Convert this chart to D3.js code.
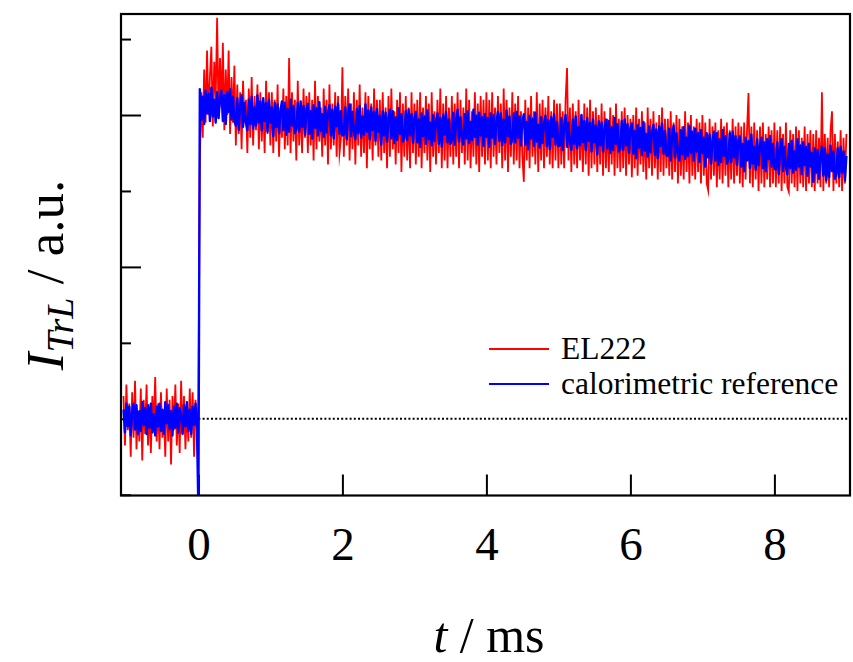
<!DOCTYPE html>
<html>
<head>
<meta charset="utf-8">
<script src="https://cdn.jsdelivr.net/npm/d3@7"></script>
<style>
  html, body { margin: 0; padding: 0; background: #fff; }
  svg { display: block; font-family: "Liberation Serif", "Times New Roman", serif; }
</style>
</head>
<body>
<svg id="chart" width="853" height="662"></svg>
<script>
// ---- data ----
const tStart = -1.04;   // ms, first sample
const tStep = 0.02;     // ms, sample spacing
const xTicks = [0, 2, 4, 6, 8];
const yMajorTicks = [0, 2, 4];
const yMinorTicks = [-1, 1, 3, 5];
const baselineLevel = 0;
const seriesNames = ["EL222", "calorimetric reference"];

// EL222 signal (a.u.)
const redSignal = [
  // t < 0
  0.3,-0.35,0.45,-0.15,0.2,-0.5,0.35,-0.25,0.5,-0.4,0.1,-0.3,0.4,-0.55,0.25,-0.2,0.45,-0.35,0.15,-0.45,0.3,-0.1,0.55,-0.3,0.2,-0.4,
  0.35,-0.25,0.1,-0.5,0.4,-0.3,0.25,-0.6,0.3,-0.15,0.45,-0.35,0.2,-0.45,0.5,-0.2,0.3,-0.4,0.15,-0.3,0.4,-0.25,0.35,-0.5,0.25,-0.15,
  // t = 0
  0.2,
  // 0.02-0.5
  3.4,4.3,3.7,4.6,3.9,4.85,4.0,4.5,4.9,3.85,4.7,4.2,5.28,3.95,4.75,4.1,4.95,3.8,4.6,4.0,4.85,3.75,4.5,3.9,4.65,
  // 0.52-1.0
  3.6,4.4,3.75,4.3,3.55,4.45,3.9,4.2,3.5,4.35,3.7,4.5,3.6,4.25,3.8,4.4,3.55,4.3,3.65,4.2,3.5,4.45,3.75,4.3,3.6,
  // 1.02-1.5
  4.3,3.5,4.2,3.65,4.4,3.45,4.1,3.7,4.35,3.55,4.25,3.6,4.75,3.5,4.3,3.65,4.2,3.4,4.45,3.6,4.15,3.5,4.35,3.7,4.25,
  // 1.52-2.0
  3.5,4.3,3.6,4.2,3.4,4.45,3.55,4.25,3.65,4.1,3.45,4.35,3.6,4.2,3.35,4.4,3.55,4.15,3.6,4.3,3.45,4.25,3.5,3.7,4.63,
  // 2.02-2.5
  3.45,4.25,3.6,4.35,3.4,4.15,3.55,4.3,3.35,4.2,3.6,4.4,3.45,4.1,3.5,4.3,3.3,4.25,3.55,4.15,3.4,4.35,3.6,4.2,3.45,
  // 2.52-3.0
  4.2,3.4,4.3,3.5,4.1,3.3,4.25,3.45,4.35,3.55,4.05,3.35,4.2,3.5,4.3,3.25,4.15,3.45,4.25,3.4,4.1,3.3,4.3,3.5,4.15,
  // 3.02-3.5
  3.35,4.2,3.45,4.3,3.3,4.1,3.5,4.25,3.4,4.15,3.25,4.3,3.45,4.05,3.35,4.2,3.5,4.35,3.3,4.15,3.4,4.25,3.3,4.1,3.45,
  // 3.52-4.0
  4.25,3.35,4.15,3.45,4.3,3.3,4.2,3.5,4.1,3.35,4.35,3.4,4.2,3.3,4.05,3.45,4.3,3.35,4.15,3.25,4.25,3.45,4.2,3.35,4.3,
  // 4.02-4.5
  3.4,4.2,3.3,4.3,3.45,4.1,3.35,4.25,3.5,4.15,3.3,4.35,3.4,4.2,3.25,4.1,3.45,4.3,3.35,4.15,3.4,4.25,3.3,4.05,3.45,
  // 4.52-5.0
  3.12,4.2,3.4,4.1,3.3,4.25,3.45,4.05,3.35,4.3,3.25,4.15,3.4,4.2,3.3,4.1,3.45,4.25,3.35,4.05,3.3,4.2,3.4,4.15,3.3,
  // 5.02-5.5
  4.15,3.35,4.05,3.3,4.2,4.62,3.4,4.1,3.25,4.15,3.35,4.05,3.3,4.2,3.4,4.0,3.25,4.15,3.35,4.1,3.2,4.2,3.3,4.05,3.35,
  // 5.52-6.0
  4.1,3.25,4.0,3.35,4.15,3.2,4.05,3.3,3.95,3.25,4.1,3.35,4.0,3.2,4.15,3.3,3.95,3.25,4.05,3.3,4.1,3.2,4.0,3.35,3.95,
  // 6.02-6.5
  3.18,4.0,3.3,4.1,3.2,3.95,3.35,4.05,3.25,3.9,3.15,4.1,3.3,3.95,3.2,4.05,3.3,3.9,3.15,4.0,3.25,4.1,3.2,3.95,3.3,
  // 6.52-7.0
  3.95,3.2,4.05,3.15,3.9,3.25,4.0,3.1,3.95,3.2,3.85,3.15,4.05,3.25,3.9,3.1,4.0,3.2,3.85,3.15,3.95,3.25,3.9,3.1,4.0,
  // 7.02-7.5
  3.2,3.9,3.1,3.01,3.95,3.15,3.85,3.2,3.9,3.05,3.8,3.15,3.95,3.1,3.85,3.2,3.9,3.05,3.8,3.15,3.95,3.1,3.85,3.2,3.9,
  // 7.52-8.0
  3.1,3.85,3.05,3.9,3.15,3.8,4.29,3.1,3.85,3.05,3.9,3.15,3.8,3.0,3.85,3.1,3.9,3.05,3.75,3.15,3.85,3.05,3.8,3.1,3.9,
  // 8.02-8.5
  3.05,3.8,3.1,3.85,3.0,3.75,3.1,3.9,3.05,2.99,3.8,3.1,3.75,3.05,3.85,3.0,3.8,3.1,3.7,3.05,3.85,3.0,3.75,3.1,3.8,
  // 8.52-9.0
  3.05,3.75,3.0,3.8,3.1,3.7,3.05,4.3,3.0,3.75,3.1,3.7,3.05,3.8,4.05,3.0,3.75,3.1,3.65,3.05,3.8,3.0,3.7,3.1,3.75
];

// calorimetric reference signal (a.u.)
const blueSignal = [
  // t < 0
  0.12,-0.18,0.2,-0.1,0.16,-0.22,0.08,0.2,-0.14,0.18,-0.2,0.1,-0.16,0.22,-0.08,0.14,-0.2,0.18,-0.12,0.2,-0.18,0.06,-0.22,0.16,-0.1,0.2,
  -0.16,0.12,-0.2,0.22,-0.06,0.18,-0.14,0.1,-0.22,0.16,-0.12,0.2,-0.18,0.14,0.04,-0.2,0.18,-0.1,0.22,-0.16,0.12,-0.2,0.16,-0.08,0.2,-0.12,
  // t = 0
  -1.2,
  // 0.02-0.5
  4.34,3.94,4.24,3.88,4.32,4.02,4.28,3.92,4.36,3.98,4.2,3.9,4.3,3.96,4.22,4.32,3.92,4.26,3.88,4.3,4.04,4.34,3.94,4.24,3.92,
  // 0.52-1.0
  3.86,4.22,3.8,4.12,4.26,3.84,4.16,3.9,3.8,4.2,3.88,4.24,3.82,4.1,3.86,4.26,3.9,4.18,3.8,4.22,3.92,4.16,3.78,4.2,3.9,
  // 1.02-1.5
  4.1,3.72,4.16,3.84,4.14,3.76,4.06,4.18,3.8,4.16,3.74,4.08,3.78,4.2,3.86,4.12,3.76,3.82,4.16,3.78,4.18,3.84,4.12,3.74,4.06,
  // 1.52-2.0
  4.15,3.75,4.05,3.69,4.13,3.83,4.09,3.73,4.17,3.79,4.01,3.71,4.11,3.77,4.03,4.13,3.73,4.07,3.69,4.11,3.85,4.15,3.75,4.05,3.73,
  // 2.02-2.5
  3.74,4.1,3.68,4.0,4.14,3.72,4.04,3.78,3.68,4.08,3.76,4.12,3.7,3.98,3.74,4.14,3.78,4.06,3.68,4.1,3.8,4.04,3.66,4.08,3.78,
  // 2.52-3.0
  3.99,3.61,4.05,3.73,4.03,3.65,3.95,4.07,3.69,4.05,3.63,3.97,3.67,4.09,3.75,4.01,3.65,3.71,4.05,3.67,4.07,3.73,4.01,3.63,3.95,
  // 3.02-3.5
  4.04,3.64,3.94,3.58,4.02,3.72,3.98,3.62,4.06,3.68,3.9,3.6,4.0,3.66,3.92,4.02,3.62,3.96,3.58,4.0,3.74,4.04,3.64,3.94,3.62,
  // 3.52-4.0
  3.67,4.03,3.61,3.93,4.07,3.65,3.97,3.71,3.61,4.01,3.69,4.05,3.63,3.91,3.67,4.07,3.71,3.99,3.61,4.03,3.73,3.97,3.59,4.01,3.71,
  // 4.02-4.5
  3.96,3.58,4.02,3.7,4.0,3.62,3.92,4.04,3.66,4.02,3.6,3.94,3.64,4.06,3.72,3.98,3.62,3.68,4.02,3.64,4.04,3.7,3.98,3.6,3.92,
  // 4.52-5.0
  4.01,3.61,3.91,3.55,3.99,3.69,3.95,3.59,4.03,3.65,3.87,3.57,3.97,3.63,3.89,3.99,3.59,3.93,3.55,3.97,3.71,4.01,3.61,3.91,3.59,
  // 5.02-5.5
  3.6,3.96,3.54,3.86,4.0,3.58,3.9,3.64,3.54,3.94,3.62,3.98,3.56,3.84,3.6,4.0,3.64,3.92,3.54,3.96,3.66,3.9,3.52,3.94,3.64,
  // 5.52-6.0
  3.86,3.48,3.92,3.6,3.9,3.52,3.82,3.94,3.56,3.92,3.5,3.84,3.54,3.96,3.62,3.88,3.52,3.58,3.92,3.54,3.94,3.6,3.88,3.5,3.82,
  // 6.02-6.5
  3.89,3.49,3.79,3.43,3.87,3.57,3.83,3.47,3.91,3.53,3.75,3.45,3.85,3.51,3.77,3.87,3.47,3.81,3.43,3.85,3.59,3.89,3.49,3.79,3.47,
  // 6.52-7.0
  3.46,3.82,3.4,3.72,3.86,3.44,3.76,3.5,3.4,3.8,3.48,3.84,3.42,3.7,3.46,3.86,3.5,3.78,3.4,3.82,3.52,3.76,3.38,3.8,3.5,
  // 7.02-7.5
  3.7,3.32,3.76,3.44,3.74,3.36,3.66,3.78,3.4,3.76,3.34,3.68,3.38,3.8,3.46,3.72,3.36,3.42,3.76,3.38,3.78,3.44,3.72,3.34,3.66,
  // 7.52-8.0
  3.72,3.32,3.62,3.26,3.7,3.4,3.66,3.3,3.74,3.36,3.58,3.28,3.68,3.34,3.6,3.7,3.3,3.64,3.26,3.68,3.42,3.72,3.32,3.62,3.3,
  // 8.02-8.5
  3.28,3.64,3.22,3.54,3.68,3.26,3.58,3.32,3.22,3.62,3.3,3.66,3.24,3.52,3.28,3.68,3.32,3.6,3.22,3.64,3.34,3.58,3.2,3.62,3.32,
  // 8.52-9.0
  3.5,3.12,3.56,3.24,3.54,3.16,3.46,3.58,3.2,3.56,3.14,3.48,3.18,3.6,3.26,3.52,3.16,3.22,3.56,3.18,3.58,3.24,3.52,3.14,3.46
];

// ---- layout ----
const svg = d3.select("#chart");
const plot = { left: 121, right: 850, top: 14, bottom: 495.5 };
const x = d3.scaleLinear().domain([-1.075, 9.05]).range([plot.left, plot.right]);
const y = d3.scaleLinear().domain([-1.01, 5.33]).range([plot.bottom, plot.top]);

const toPoints = arr => arr.map((v, i) => ({ t: tStart + i * tStep, v }));
const line = d3.line().x(d => x(d.t)).y(d => y(d.v));

svg.append("defs").append("clipPath").attr("id", "clip")
  .append("rect").attr("x", plot.left).attr("y", plot.top)
  .attr("width", plot.right - plot.left).attr("height", plot.bottom - plot.top);

// axes (drawn first so the traces sit on top of the inward ticks)
const xAxis = d3.axisBottom(x).tickValues(xTicks).tickSize(-21).tickFormat(d3.format("d"));
const gx = svg.append("g").attr("transform", `translate(0,${plot.bottom})`).call(xAxis);
gx.select(".domain").remove();
gx.selectAll(".tick line").attr("stroke", "#000").attr("stroke-width", 2);
gx.selectAll(".tick text").attr("font-size", 47).attr("fill", "#000")
  .attr("y", 64).attr("dy", 0)
  .attr("font-family", "'Liberation Serif', 'Times New Roman', serif");

const yMajor = d3.axisLeft(y).tickValues(yMajorTicks).tickSize(-20).tickFormat("");
const yMinor = d3.axisLeft(y).tickValues(yMinorTicks).tickSize(-10).tickFormat("");
[yMajor, yMinor].forEach(ax => {
  const gy = svg.append("g").attr("transform", `translate(${plot.left},0)`).call(ax);
  gy.select(".domain").remove();
  gy.selectAll(".tick line").attr("stroke", "#000").attr("stroke-width", 2);
});

// dotted baseline
svg.append("line")
  .attr("x1", x(0)).attr("x2", plot.right)
  .attr("y1", y(baselineLevel)).attr("y2", y(baselineLevel))
  .attr("stroke", "#000").attr("stroke-width", 2).attr("stroke-dasharray", "2,2.2");

const g = svg.append("g").attr("clip-path", "url(#clip)");
g.append("path").datum(toPoints(redSignal)).attr("d", line)
  .attr("fill", "none").attr("stroke", "#ff0000").attr("stroke-width", 1.8)
  .attr("stroke-miterlimit", 20);
g.append("path").datum(toPoints(blueSignal)).attr("d", line)
  .attr("fill", "none").attr("stroke", "#0000ff").attr("stroke-width", 2.4)
  .attr("stroke-linejoin", "round");

// frame
svg.append("rect")
  .attr("x", plot.left).attr("y", plot.top)
  .attr("width", plot.right - plot.left).attr("height", plot.bottom - plot.top)
  .attr("fill", "none").attr("stroke", "#000").attr("stroke-width", 2.2);

// axis titles
const xt = svg.append("text").attr("x", 489).attr("y", 652).attr("text-anchor", "middle")
  .attr("font-size", 50).attr("fill", "#000");
xt.append("tspan").attr("font-style", "italic").text("t");
xt.append("tspan").text(" / ms");

const yt = svg.append("text").attr("transform", "translate(63,275) rotate(-90)")
  .attr("text-anchor", "middle").attr("font-size", 53).attr("fill", "#000");
yt.append("tspan").attr("font-style", "italic").text("I");
yt.append("tspan").attr("font-style", "italic").attr("font-size", 38).attr("dy", 10).text("TrL");
yt.append("tspan").attr("dy", -10).text(" / a.u.");

// legend
const legend = svg.append("g");
const legendColors = ["#ff0000", "#0000ff"];
seriesNames.forEach((name, i) => {
  const ly = 349 + i * 35;
  legend.append("line").attr("x1", 489).attr("x2", 549).attr("y1", ly).attr("y2", ly)
    .attr("stroke", legendColors[i]).attr("stroke-width", 2);
  legend.append("text").attr("x", 561).attr("y", ly + 10).attr("font-size", 31.5)
    .attr("fill", "#000").text(name);
});
</script>
</body>
</html>
